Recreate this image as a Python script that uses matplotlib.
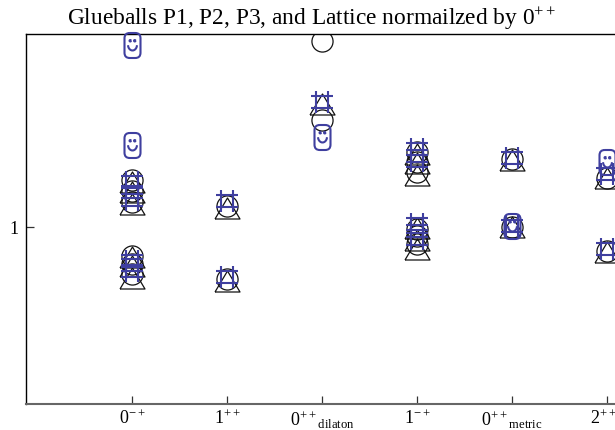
import matplotlib
matplotlib.use("Agg")
import numpy as np
import matplotlib.pyplot as plt
from matplotlib.path import Path
from matplotlib.transforms import ScaledTranslation

plt.rcParams['font.family'] = ['Liberation Serif', 'DejaVu Serif']
plt.rcParams['mathtext.fontset'] = 'custom'
plt.rcParams['mathtext.rm'] = 'Liberation Serif'
plt.rcParams['mathtext.it'] = 'Liberation Serif'
plt.rcParams['mathtext.default'] = 'rm'

tick_labels = [r'$0^{-+}$', r'$1^{++}$', r'$0^{++}{}_{\mathrm{dilaton}}$',
               r'$1^{-+}$', r'$0^{++}{}_{\mathrm{metric}}$', r'$2^{++}$']

circle_x = [0, 0, 0, 0, 0, 0, 1, 1, 2, 2, 3, 3, 3, 3, 3, 3, 4, 4, 5, 5]
circle_y = [1.202, 1.151, 1.103, 0.893, 0.865, 0.833, 1.086, 0.817, 2.074, 1.522,
            1.340, 1.290, 1.240, 0.992, 0.965, 0.934, 1.304, 1.000, 1.212, 0.911]

triangle_x = [0, 0, 0, 0, 0, 0, 1, 1, 2, 3, 3, 3, 3, 3, 3, 4, 4, 5, 5]
triangle_y = [1.190, 1.147, 1.094, 0.890, 0.857, 0.820, 1.078, 0.810, 1.617,
              1.328, 1.282, 1.225, 0.994, 0.950, 0.916, 1.299, 0.998, 1.209, 0.905]

hash_x = [0, 0, 0, 0, 0, 0, 1, 1, 2, 3, 3, 3, 3, 3, 3, 4, 4, 5, 5]
hash_y = [1.190, 1.147, 1.112, 0.876, 0.862, 0.843, 1.105, 0.823, 1.630,
          1.357, 1.321, 1.295, 1.012, 0.984, 0.954, 1.307, 1.004, 1.231, 0.916]

smile_x = [0, 0, 2, 4, 5]
smile_y = [2.040, 1.380, 1.421, 1.002, 1.291]

# marker shapes
tri = Path([(-1, -0.84), (1, -0.84), (0, 0.84), (-1, -0.84)], closed=False)
hash_m = Path([(-1, 0.58), (1, 0.58), (-1, -0.58), (1, -0.58),
               (-0.58, 1), (-0.58, -1), (0.58, 1), (0.58, -1)],
              [Path.MOVETO, Path.LINETO] * 4)

def smiley():
    w, h, r = 0.64, 1.0, 0.42
    verts = [(-w + r, h), (w - r, h), (w, h), (w, h - r), (w, -h + r), (w, -h), (w - r, -h),
             (-w + r, -h), (-w, -h), (-w, -h + r), (-w, h - r), (-w, h), (-w + r, h)]
    codes = [Path.MOVETO, Path.LINETO, Path.CURVE3, Path.CURVE3, Path.LINETO, Path.CURVE3, Path.CURVE3,
             Path.LINETO, Path.CURVE3, Path.CURVE3, Path.LINETO, Path.CURVE3, Path.CURVE3]
    for ex in (-0.18, 0.18):
        t = np.linspace(0, 2 * np.pi, 10)
        verts += [(ex + 0.06 * np.cos(a), 0.38 + 0.06 * np.sin(a)) for a in t]
        codes += [Path.MOVETO] + [Path.LINETO] * 9
    t = np.linspace(np.pi * 1.02, np.pi * 1.98, 12)
    verts += [(0.36 * np.cos(a), 0.05 + 0.45 * np.sin(a)) for a in t]
    codes += [Path.MOVETO] + [Path.LINETO] * 11
    return Path(verts, codes)

W, H = 615, 431
L, B, T = 25.5, 405.0, 34.7
fig = plt.figure(figsize=(W / 100, H / 100), dpi=100)
ax = fig.add_axes([L / W, 1 - B / H, 1 - L / W, (B - T) / H])

ax.set_yscale('log')
ax.set_ylim(0.5, 2.13)
# x tick 0 sits at pixel 132, spacing 95 px
ax.set_xlim((L - 132) / 95, (W - 132) / 95)

navy = '#3f3f9f'
ax.plot(circle_x, circle_y, ls='none', marker='o', ms=15.2, mfc='none', mec='#111111', mew=0.9)
ax.plot(triangle_x, triangle_y, ls='none', marker=tri, ms=18, mfc='none', mec='#111111', mew=0.9)
ax.plot(hash_x, hash_y, ls='none', marker=hash_m, ms=16, mfc='none', mec=navy, mew=1.5)
ax.plot(smile_x, smile_y, ls='none', marker=smiley(), ms=18, mfc='none', mec=navy, mew=1.5,
        clip_on=False, zorder=5)

ax.set_xticks(range(6))
ax.set_xticklabels(tick_labels, fontsize=13)
ax.set_yticks([1])
ax.set_yticklabels(['1'], fontsize=13)
ax.minorticks_off()
ax.tick_params(axis='both', direction='in', length=5.5, width=0.9, color='#333333', pad=3)
ax.tick_params(axis='y', pad=5)
ax.spines['right'].set_visible(False)
for s in ('left', 'top'):
    ax.spines[s].set_linewidth(1.0)
ax.spines['bottom'].set_linewidth(1.5)
ax.spines['bottom'].set_color('#666666')

# the last label ends at the figure edge in the reference
last = ax.get_xticklabels()[-1]
last.set_transform(last.get_transform() + ScaledTranslation(-4 / 100, 0, fig.dpi_scale_trans))

fig.text(312 / W, 1 - 24.5 / H, r'Glueballs P1, P2, P3, and Lattice normailzed by $0^{++}$',
         fontsize=16.8, ha='center', va='baseline')
fig.savefig('out.png', dpi=100)
